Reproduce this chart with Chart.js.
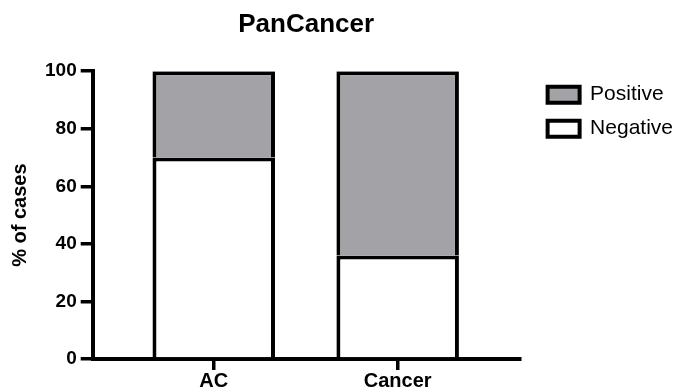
<!DOCTYPE html>
<html lang="en">
<head>
<meta charset="UTF-8">
<title>PanCancer</title>
<style>
    html, body {
        margin: 0;
        padding: 0;
        background: #fff;
    }
    #chart-container {
        width: 685px;
        height: 389px;
    }
</style>
</head>
<body>
<div id="chart-container">
    <canvas id="panChart"></canvas>
</div>

<script src="https://cdn.jsdelivr.net/npm/chart.js"></script>
<script>
    // data
    const categories = ['AC', 'Cancer'];
    const negative = [70, 36];
    const positive = [30, 64];
    const yTicks = [0, 20, 40, 60, 80, 100];

    Chart.defaults.font.family = "'Liberation Sans', Arial, sans-serif";
    Chart.defaults.color = '#000';

    const toPoints = values => categories.map((c, i) => ({ x: i + 1, y: values[i] }));

    const ctx = document.getElementById('panChart').getContext('2d');
    const chart = new Chart(ctx, {
        type: 'bar',
        data: {
            datasets: [{
                label: 'Negative',
                data: toPoints(negative),
                backgroundColor: '#ffffff',
                borderColor: '#000',
                borderWidth: 4,
                barPercentage: 0.666,
                categoryPercentage: 1
            }, {
                label: 'Positive',
                data: toPoints(positive),
                backgroundColor: '#a3a2a7',
                borderColor: '#000',
                borderWidth: 4,
                barPercentage: 0.666,
                categoryPercentage: 1
            }]
        },
        options: {
            responsive: true,
            maintainAspectRatio: false,
            animation: false,
            layout: { padding: { left: 4, right: 2, top: 0, bottom: -3 } },
            plugins: {
                title: {
                    display: true,
                    text: 'PanCancer',
                    fullSize: false,
                    color: '#000',
                    font: { size: 26, weight: 'bold' },
                    padding: { top: 9, bottom: 31 }
                },
                legend: {
                    position: 'right',
                    align: 'start',
                    fullSize: false,
                    reverse: true,
                    maxWidth: 170,
                    labels: {
                        boxWidth: 32,
                        boxHeight: 16,
                        padding: 13,
                        color: '#000',
                        font: { size: 21 }
                    }
                },
                tooltip: { enabled: false }
            },
            scales: {
                x: {
                    type: 'linear',
                    stacked: true,
                    offset: false,
                    min: 0.342,
                    max: 2.663,
                    afterBuildTicks: s => { s.ticks = categories.map((c, i) => ({ value: i + 1 })); },
                    ticks: {
                        callback: v => categories[v - 1],
                        autoSkip: false,
                        maxRotation: 0,
                        padding: 1,
                        color: '#000',
                        font: { size: 20, weight: 'bold', lineHeight: 1 }
                    },
                    grid: { offset: false, drawOnChartArea: false, tickLength: 11, lineWidth: 3.5, color: '#000' },
                    border: { display: true, width: 4, color: '#000' }
                },
                y: {
                    stacked: true,
                    min: 0,
                    max: 100,
                    afterBuildTicks: s => { s.ticks = yTicks.map(v => ({ value: v })); },
                    ticks: {
                        padding: 4,
                        color: '#000',
                        font: { size: 19, weight: 'bold' }
                    },
                    grid: { drawOnChartArea: false, tickLength: 12, lineWidth: 3.5, color: '#000' },
                    border: { display: true, width: 4, color: '#000' },
                    title: {
                        display: true,
                        text: '% of cases',
                        color: '#000',
                        font: { size: 20, weight: 'bold' },
                        padding: { top: 4, bottom: 9 }
                    }
                },
                // empty strip between plot and legend
                gap: {
                    type: 'linear',
                    position: 'right',
                    display: true,
                    grid: { display: false },
                    border: { display: false },
                    ticks: { display: false },
                    afterFit: s => { s.width = 15; }
                }
            }
        }
    });
</script>
</body>
</html>
